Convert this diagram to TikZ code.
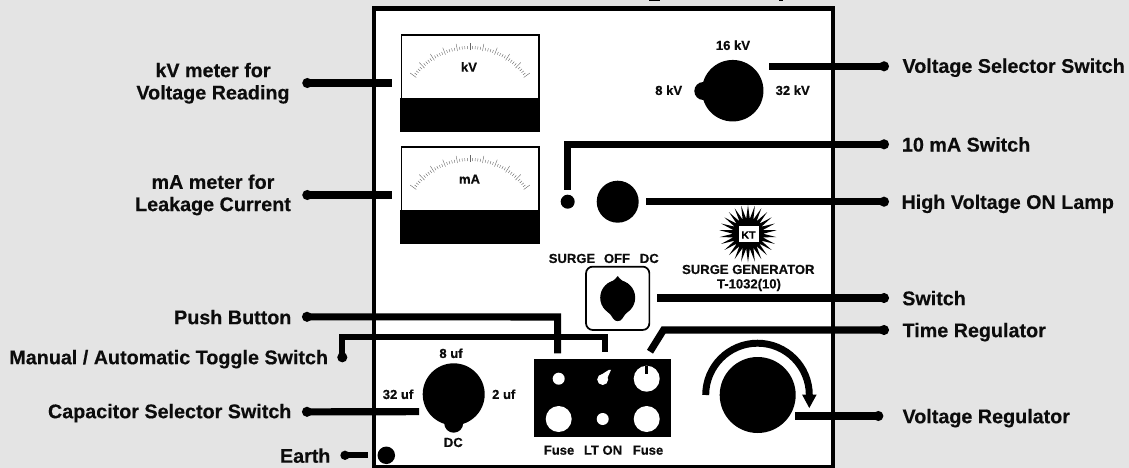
\documentclass[tikz,border=0pt]{standalone}
\usepackage{fontspec}
\setmainfont{Liberation Sans}[BoldFont={Liberation Sans Bold},BoldFeatures={FakeBold=0.35}]
\usetikzlibrary{shapes.geometric}
\definecolor{panelbg}{HTML}{E4E4E4}
\definecolor{ink}{HTML}{0C0C0C}
\tikzset{
  x=0.75pt,y=-0.75pt,
  wire/.style={draw=black,line width=5.3pt,line cap=butt,miter limit=10},
  wirethin/.style={draw=black,line width=4.6pt,line cap=butt},
  dot/.style={circle,fill=black,inner sep=0pt,minimum size=7.6pt},
  disc/.style={circle,fill=black,inner sep=0pt,minimum size=#1*0.75pt},
  hole/.style={circle,fill=white,inner sep=0pt,minimum size=#1*0.75pt},
  big/.style={font=\bfseries\fontsize{14.8}{16.7}\selectfont,text=ink,inner sep=0pt},
  bigl/.style={big,anchor=base west,yshift=-5.4pt},
  bigr/.style={big,anchor=base east,yshift=-5.4pt},
  bigc/.style={big,anchor=center,align=center},
  small/.style={font=\bfseries\fontsize{9.8}{11}\selectfont,text=ink,inner sep=0pt,anchor=base,yshift=-3.5pt},
  meter/.style={draw=black,line width=1.2pt,fill=white,inner sep=0pt,anchor=north west,minimum width=103pt,minimum height=72.5pt},
  band/.style={fill=black,inner sep=0pt,anchor=north west,minimum width=103.5pt,minimum height=25.5pt},
  tick/.style={draw=black!60,line width=0.3pt}
}
\newcommand{\meterticks}[2]{%
  \begin{scope}[shift={(#1,#2)}]
    \foreach \i in {0,...,50}{
      \pgfmathsetmacro{\ang}{-144+\i*2.16}
      \pgfmathtruncatemacro{\ism}{mod(\i,5)==0 ? 1 : 0}
      \ifnum\ism=1
        \draw[tick] (\ang:66.5) -- (\ang:74);
      \else
        \draw[tick] (\ang:67.5) -- (\ang:70.5);
      \fi
    }
  \end{scope}}
\begin{document}
\begin{tikzpicture}
\useasboundingbox (0,0) rectangle (1129,468);
\fill[panelbg] (0,0) rectangle (1129,468);
% cropped title descenders
\fill[black] (649,0) rectangle (660,1.3);
\fill[black] (779,0) rectangle (783,1.3);
% panel
\draw[draw=black,line width=3.3pt,fill=white] (374,8.5) rectangle (833,467);

% meters
\node[meter] (kvmeter) at (400.7,34) {};
\node[band] (kvband) at (400.2,98) {};
\meterticks{470}{116.5}
\node[small] (kvtext) at (469,67) {kV};
\node[meter] (mameter) at (400.7,146) {};
\node[band] (maband) at (400.2,210) {};
\meterticks{470}{228.5}
\node[small] (matext) at (469.5,179) {mA};

% voltage selector knob
\node[disc=61.5] (vknob) at (732.7,90.7) {};
\node[disc=18] (vnub) at (703.3,91) {};
\node[small] (l16) at (733,45.3) {16 kV};
\node[small] (l8) at (668.7,90.3) {8 kV};
\node[small] (l32) at (792.7,90.3) {32 kV};

% lamp and small switch
\node[disc=14] (maswitch) at (567.7,201.7) {};
\node[disc=42] (lamp) at (617.7,201.7) {};

% logo
\node[star,star points=26,star point ratio=1.9,fill=black,inner sep=0pt,minimum size=43pt] (logostar) at (748,233.7) {};
\node[fill=white,inner sep=0pt,minimum width=15pt,minimum height=12pt] (logobox) at (748.5,234) {};
\node[font=\bfseries\fontsize{8}{8}\selectfont,inner sep=0pt] (logotext) at (748.5,235) {KT};
\node[small] (surgegen) at (748.3,269.3) {SURGE GENERATOR};
\node[small] (model) at (749,283.7) {T-1032(10)};

% mode switch
\node[small] (lsurge) at (572,258.3) {SURGE};
\node[small] (loff) at (617,258.3) {OFF};
\node[small] (ldc) at (649.3,258.3) {DC};
\node[draw=black,line width=1.3pt,fill=white,rounded corners=5pt,inner sep=0pt,minimum width=47.5pt,minimum height=47.5pt] (modebox) at (617.7,298.3) {};
\node[disc=35] (modeknob) at (617.7,297.7) {};
\fill[black] (607,284) .. controls (612,281.5) and (615,280) .. (617.7,276) .. controls (620.4,280) and (623.4,281.5) .. (628.4,284) -- cycle;
\fill[black] (605,309) .. controls (610,314) and (612,316) .. (613.5,319) .. controls (615,321.8) and (620.4,321.8) .. (622,319) .. controls (623.5,316) and (625.5,314) .. (630.4,309) -- cycle;

% control block
\node[fill=black,inner sep=0pt,anchor=north west,minimum width=102.75pt,minimum height=58.5pt] (block) at (534,359) {};
\node[hole=12] (h1) at (558.7,378.7) {};
\node[hole=11] (h2) at (602.7,379.5) {};
\fill[white] (600,375.5) -- (609,369.8) -- (611,369.8) -- (606.5,380) -- cycle;
\node[hole=26] (h3) at (646.7,378.7) {};
\fill[black] (645.4,365.5) rectangle (648,373.5);
\node[hole=26] (h4) at (558.7,419) {};
\node[hole=12] (h5) at (602.7,419) {};
\node[hole=26] (h6) at (646.7,419) {};
\node[small] (fuse1) at (559,450) {Fuse};
\node[small] (lton) at (603,450) {LT ON};
\node[small] (fuse2) at (648,450) {Fuse};

% capacitor knob
\node[disc=62] (cknob) at (453.7,394.3) {};
\node[disc=19] (cnub) at (453.7,423.2) {};
\node[small] (l8uf) at (451,353.3) {8 uf};
\node[small] (l32uf) at (398,394.3) {32 uf};
\node[small] (l2uf) at (503.7,394.3) {2 uf};
\node[small] (lcdc) at (453.3,442.3) {DC};

% earth
\node[disc=17.5] (earth) at (386.3,455.3) {};

% regulator
\node[disc=76] (reg) at (757.7,395) {};
\draw[draw=black,line width=5.2pt] (705.7,395) arc[start angle=180,end angle=360,radius=51.8];
\fill[black] (802,394.5) -- (816.7,394.5) -- (809.3,408) -- cycle;

% end points of the connectors
\coordinate (ckv) at (392,83);
\coordinate (cma) at (392,195);
\coordinate (cvs) at (769.3,66.3);
\coordinate (cmasw) at (567.7,190);
\coordinate (cmaA) at (567.7,144.3);
\coordinate (clamp) at (645.7,201.7);
\coordinate (csw) at (657,298);
\coordinate (ctime) at (650,351.7);
\coordinate (ctimeA) at (663.5,330);
\coordinate (cpb) at (557.7,353.3);
\coordinate (cpbA) at (557.7,317);
\coordinate (ctog) at (604.7,351.7);
\coordinate (ctogA) at (604.7,336.7);
\coordinate (ctogB) at (342.3,336.7);
\coordinate (ccap) at (419,411.7);
\coordinate (cearth) at (368.3,455.3);
\coordinate (creg) at (795,416);

% connector dots
\node[dot] (dkv) at (307.3,83) {};
\node[dot] (dma) at (307.3,195) {};
\node[dot] (dvs) at (884,66.3) {};
\node[dot] (dmasw) at (884,144.3) {};
\node[dot] (dlamp) at (884,201.7) {};
\node[dot] (dsw) at (884,298) {};
\node[dot] (dtime) at (884,330) {};
\node[dot] (dreg) at (878.3,416) {};
\node[dot] (dpb) at (307,316.8) {};
\node[dot] (dtog) at (342.3,357.3) {};
\node[dot] (dcap) at (307,411.8) {};
\node[dot,minimum size=7pt] (dearth) at (345,455.3) {};

% connectors
\draw[wire] (dkv.center) -- (ckv);
\draw[wire] (dma.center) -- (cma);
\draw[wire] (dvs.center) -- (cvs);
\draw[wire] (dmasw.center) -- (cmaA) -- (cmasw);
\draw[wire] (dlamp.center) -- (clamp);
\draw[wire] (dsw.center) -- (csw);
\draw[wire] (dtime.center) -- (ctimeA) -- (ctime);
\draw[wire] (dreg.center) -- (creg);
\draw[wire] (dpb.center) -- (cpbA) -- (cpb);
\draw[wirethin] (dtog.center) -- (ctogB) -- (ctogA) -- (ctog);
\draw[wire] (dcap.center) -- (ccap);
\draw[wirethin] (dearth.center) -- (cearth);

% callout labels
\node[bigc] (tkv) at (213,83.2) {kV meter for\\Voltage Reading};
\node[bigc] (tma) at (213,194.9) {mA meter for\\Leakage Current};
\node[bigr] (tpb) at (291.7,317) {Push Button};
\node[bigr] (ttog) at (328.3,357) {Manual / Automatic Toggle Switch};
\node[bigr] (tcap) at (291.7,411) {Capacitor Selector Switch};
\node[bigr] (tearth) at (330.7,455.5) {Earth};
\node[bigl] (tvs) at (902.3,65.6) {Voltage Selector Switch};
\node[bigl] (tmasw) at (901.7,144.3) {10 mA Switch};
\node[bigl] (tlamp) at (901.3,201.7) {High Voltage ON Lamp};
\node[bigl] (tsw) at (902,298) {Switch};
\node[bigl] (ttime) at (902.3,330) {Time Regulator};
\node[bigl] (treg) at (902.3,416) {Voltage Regulator};
\end{tikzpicture}
\end{document}
